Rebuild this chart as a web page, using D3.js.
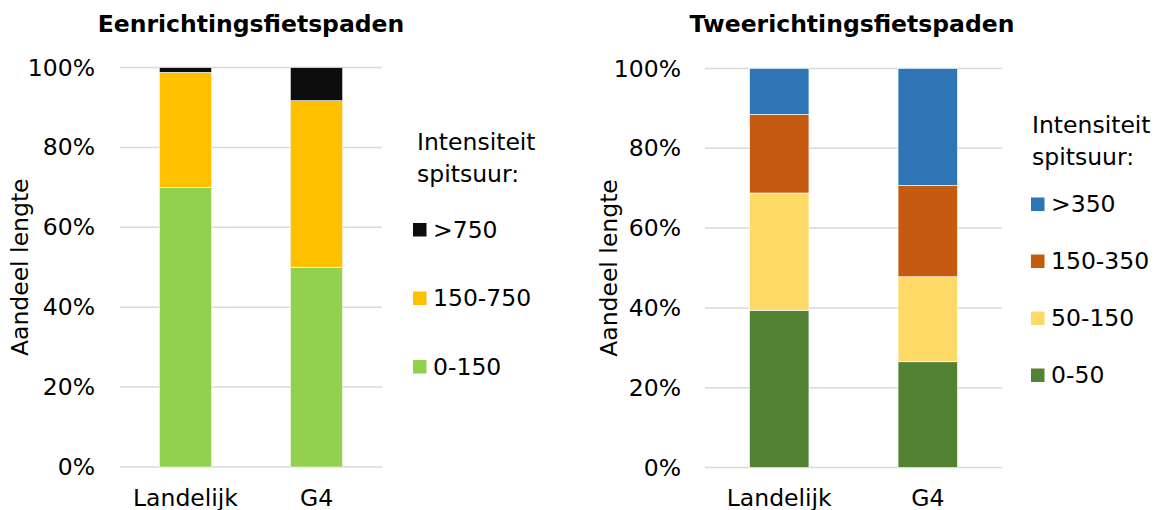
<!DOCTYPE html>
<html><head><meta charset="utf-8">
<script src="https://cdn.jsdelivr.net/npm/d3@7"></script>
<style>body{margin:0;background:#fff}svg{display:block}text{font-family:"DejaVu Sans",Verdana,sans-serif;fill:#000}</style>
</head><body><svg id="c" width="1169" height="510"></svg>
<script>
const categories = ["Landelijk", "G4"];
const yTicks = [0, 0.2, 0.4, 0.6, 0.8, 1.0];

// Eenrichtingsfietspaden
const leftTitle = "Eenrichtingsfietspaden";
const leftSeries = ["0-150", "150-750", ">750"];
const leftColors = ["#92D050", "#FFC000", "#0D0D0D"];
const left_0_150 = [0.70, 0.50];
const left_150_750 = [0.288, 0.417];
const left_gt750 = [0.012, 0.083];

// Tweerichtingsfietspaden
const rightTitle = "Tweerichtingsfietspaden";
const rightSeries = ["0-50", "50-150", "150-350", ">350"];
const rightColors = ["#548235", "#FFD966", "#C55A11", "#2E75B6"];
const right_0_50 = [0.394, 0.265];
const right_50_150 = [0.294, 0.213];
const right_150_350 = [0.197, 0.229];
const right_gt350 = [0.115, 0.293];

const yTitle = "Aandeel lengte";
const legendTitle = ["Intensiteit", "spitsuur:"];

const FS = 23.5;
const svg = d3.select("#c");

function panel(cfg) {
  const g = svg.append("g");
  const x = d3.scaleBand().domain(categories).range([cfg.x0, cfg.x1]).paddingInner(0.6).paddingOuter(0.3);
  const y = d3.scaleLinear().domain([0, 1]).range([cfg.yb, cfg.yt]);

  g.selectAll("line.grid").data(yTicks).join("line")
    .attr("x1", cfg.x0).attr("x2", cfg.x1)
    .attr("y1", d => y(d)).attr("y2", d => y(d))
    .attr("stroke", "#d9d9d9").attr("stroke-width", 1.5);

  const ax = g.append("g").attr("transform", `translate(${cfg.x0},0)`)
    .call(d3.axisLeft(y).tickValues(yTicks).tickFormat(d3.format(".0%")).tickSize(0).tickPadding(cfg.tickPad));
  ax.select(".domain").remove();
  ax.selectAll("text").attr("font-size", FS).attr("font-family", "DejaVu Sans").attr("fill", "#000");

  const xa = g.append("g").attr("transform", `translate(0,${cfg.yb})`)
    .call(d3.axisBottom(x).tickSize(0).tickPadding(22));
  xa.select(".domain").remove();
  xa.selectAll("text").attr("font-size", FS).attr("font-family", "DejaVu Sans").attr("fill", "#000");

  const rows = categories.map((c, i) => {
    const o = { cat: c };
    cfg.series.forEach((s, k) => o[s] = cfg.values[k][i]);
    return o;
  });
  const stack = d3.stack().keys(cfg.series)(rows);
  const color = d3.scaleOrdinal().domain(cfg.series).range(cfg.colors);
  g.selectAll("g.layer").data(stack).join("g")
    .attr("fill", d => color(d.key))
    .selectAll("rect").data(d => d).join("rect")
    .attr("x", d => x(d.data.cat)).attr("width", x.bandwidth())
    .attr("y", d => y(d[1])).attr("height", d => y(d[0]) - y(d[1]))
    .attr("stroke", "#fff").attr("stroke-width", 0.6);

  g.append("text").attr("x", cfg.titleX).attr("y", 32).attr("text-anchor", "middle")
    .attr("font-size", FS).attr("font-weight", "bold").text(cfg.title);

  g.append("text").attr("transform", `translate(${cfg.yTitleX},${(cfg.yt + cfg.yb) / 2}) rotate(-90)`)
    .attr("text-anchor", "middle").attr("font-size", FS).text(yTitle);

  const lg = g.append("g");
  lg.selectAll("text.lt").data(legendTitle).join("text")
    .attr("x", cfg.legX).attr("y", (d, i) => cfg.legTitleY + i * 32)
    .attr("font-size", FS).text(d => d);
  const items = cfg.series.slice().reverse();
  const it = lg.selectAll("g.item").data(items).join("g")
    .attr("transform", (d, i) => `translate(${cfg.legSqX},${cfg.legY0 + i * cfg.legStep})`);
  it.append("rect").attr("x", 0).attr("y", -6.5).attr("width", 13.5).attr("height", 13.5).attr("fill", d => color(d));
  it.append("text").attr("x", 20).attr("y", 0).attr("dy", "0.35em").attr("font-size", FS).text(d => d);
}

panel({ x0: 120, x1: 382, yb: 467, yt: 67.5, tickPad: 25, title: leftTitle, titleX: 251, yTitleX: 28,
  series: leftSeries, colors: leftColors, values: [left_0_150, left_150_750, left_gt750],
  legX: 417, legTitleY: 150, legSqX: 413, legY0: 229.5, legStep: 68.5 });

panel({ x0: 705, x1: 1002, yb: 467.5, yt: 68.5, tickPad: 24, title: rightTitle, titleX: 852, yTitleX: 617,
  series: rightSeries, colors: rightColors, values: [right_0_50, right_50_150, right_150_350, right_gt350],
  legX: 1032, legTitleY: 133, legSqX: 1031, legY0: 204, legStep: 57 });
</script></body></html>
